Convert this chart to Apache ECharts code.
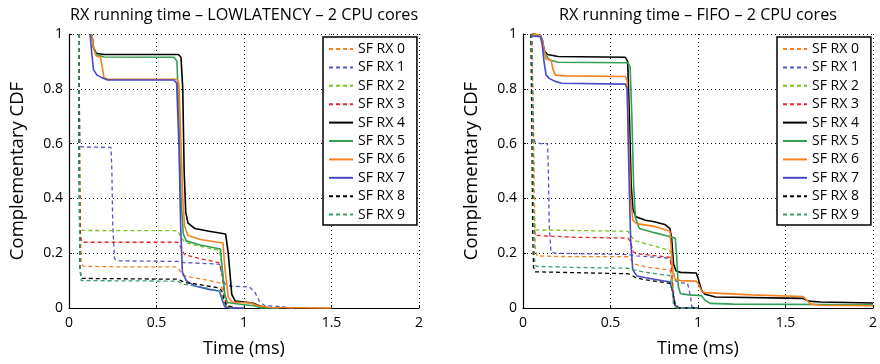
<!DOCTYPE html>
<html>
<head>
<meta charset="utf-8">
<script src="https://cdn.jsdelivr.net/npm/echarts@6/dist/echarts.min.js"></script>
<style>
html,body{margin:0;padding:0;background:#fff;}
#c{width:880px;height:364px;}
</style>
</head>
<body>
<div id="c"></div>
<script>
// ---------- data ----------
const seriesNames = ['SF RX 0','SF RX 1','SF RX 2','SF RX 3','SF RX 4','SF RX 5','SF RX 6','SF RX 7','SF RX 8','SF RX 9'];
const xTicks = [0, 0.5, 1, 1.5, 2];
const yTicks = [0, 0.2, 0.4, 0.6, 0.8, 1];
const titleLeft = 'RX running time – LOWLATENCY – 2 CPU cores';
const titleRight = 'RX running time – FIFO – 2 CPU cores';

// LOWLATENCY plot: [time (ms), complementary CDF]
const LL_RX0 = [[0.055,1],[0.06,0.7],[0.065,0.3],[0.07,0.16],[0.085,0.152],[0.3,0.15],[0.61,0.15],[0.63,0.14],[0.65,0.12],[0.7,0.112],[0.8,0.1],[0.86,0.092],[0.875,0.07],[0.9,0.01],[0.95,0.002],[1.0,0]];
const LL_RX1 = [[0.055,1],[0.058,0.8],[0.062,0.6],[0.07,0.588],[0.24,0.586],[0.245,0.5],[0.25,0.3],[0.26,0.18],[0.28,0.172],[0.62,0.17],[0.65,0.166],[0.86,0.16],[0.875,0.12],[0.89,0.088],[0.92,0.08],[1.03,0.077],[1.06,0.06],[1.09,0.022],[1.12,0.008],[1.22,0.005],[1.25,0],[1.3,0]];
const LL_RX2 = [[0.055,1],[0.06,0.6],[0.065,0.3],[0.075,0.283],[0.62,0.282],[0.64,0.26],[0.66,0.24],[0.75,0.225],[0.86,0.21],[0.875,0.15],[0.89,0.04],[0.91,0.005],[0.95,0]];
const LL_RX3 = [[0.055,1],[0.06,0.5],[0.065,0.26],[0.075,0.24],[0.62,0.24],[0.64,0.22],[0.66,0.195],[0.75,0.18],[0.86,0.165],[0.875,0.12],[0.89,0.03],[0.91,0.005],[0.95,0]];
const LL_RX4 = [[0.13,1],[0.14,0.95],[0.155,0.93],[0.2,0.925],[0.625,0.925],[0.64,0.915],[0.65,0.8],[0.658,0.5],[0.667,0.35],[0.68,0.31],[0.72,0.29],[0.8,0.28],[0.895,0.27],[0.91,0.2],[0.93,0.05],[0.95,0.025],[1.05,0.018],[1.08,0.01],[1.12,0.002],[1.2,0]];
const LL_RX5 = [[0.13,1],[0.14,0.95],[0.155,0.925],[0.2,0.916],[0.6,0.915],[0.617,0.9],[0.628,0.7],[0.64,0.4],[0.653,0.27],[0.67,0.245],[0.75,0.23],[0.865,0.215],[0.875,0.15],[0.89,0.05],[0.905,0.02],[1.0,0.012],[1.06,0.008],[1.1,0],[1.2,0]];
const LL_RX6 = [[0.13,1],[0.14,0.95],[0.155,0.92],[0.18,0.915],[0.19,0.88],[0.2,0.84],[0.22,0.835],[0.615,0.835],[0.628,0.82],[0.64,0.6],[0.65,0.4],[0.66,0.3],[0.68,0.265],[0.75,0.25],[0.88,0.237],[0.89,0.15],[0.91,0.04],[0.93,0.022],[1.04,0.018],[1.08,0.008],[1.15,0.002],[1.5,0]];
const LL_RX7 = [[0.12,1],[0.13,0.93],[0.14,0.87],[0.16,0.85],[0.19,0.84],[0.22,0.832],[0.6,0.832],[0.615,0.82],[0.628,0.6],[0.638,0.3],[0.648,0.13],[0.67,0.1],[0.72,0.08],[0.8,0.068],[0.86,0.062],[0.875,0.03],[0.89,0.005],[0.92,0],[1.0,0]];
const LL_RX8 = [[0.055,1],[0.058,0.5],[0.062,0.15],[0.07,0.108],[0.62,0.105],[0.64,0.1],[0.66,0.093],[0.75,0.085],[0.86,0.073],[0.875,0.06],[0.885,0.03],[0.9,0.008],[0.95,0]];
const LL_RX9 = [[0.055,1],[0.058,0.5],[0.063,0.14],[0.07,0.1],[0.62,0.098],[0.64,0.092],[0.66,0.086],[0.75,0.078],[0.86,0.062],[0.875,0.04],[0.89,0.01],[0.92,0],[0.95,0]];

// FIFO plot
const FF_RX0 = [[0.05,0.97],[0.06,0.7],[0.065,0.4],[0.07,0.22],[0.08,0.19],[0.2,0.188],[0.6,0.187],[0.62,0.175],[0.64,0.16],[0.7,0.15],[0.84,0.138],[0.855,0.09],[0.87,0.01],[0.9,0],[1.0,0]];
const FF_RX1 = [[0.05,1],[0.055,0.8],[0.06,0.62],[0.07,0.605],[0.1,0.6],[0.14,0.6],[0.145,0.5],[0.15,0.3],[0.16,0.205],[0.18,0.2],[0.6,0.195],[0.65,0.19],[0.84,0.182],[0.855,0.14],[0.87,0.1],[0.9,0.092],[0.94,0.09],[0.955,0.05],[0.965,0.005],[0.98,0],[1.0,0]];
const FF_RX2 = [[0.05,1],[0.055,0.7],[0.06,0.35],[0.07,0.285],[0.6,0.28],[0.62,0.26],[0.64,0.245],[0.7,0.235],[0.84,0.21],[0.85,0.15],[0.86,0.04],[0.87,0.005],[0.9,0],[1.0,0]];
const FF_RX3 = [[0.05,1],[0.055,0.6],[0.06,0.3],[0.07,0.265],[0.3,0.258],[0.6,0.255],[0.615,0.24],[0.63,0.205],[0.65,0.198],[0.84,0.185],[0.85,0.13],[0.86,0.02],[0.88,0],[1.0,0]];
const FF_RX4 = [[0.05,1],[0.06,0.997],[0.1,0.995],[0.11,0.98],[0.12,0.94],[0.14,0.925],[0.2,0.918],[0.585,0.915],[0.598,0.9],[0.608,0.7],[0.618,0.45],[0.628,0.36],[0.645,0.333],[0.7,0.32],[0.75,0.315],[0.81,0.305],[0.84,0.29],[0.85,0.25],[0.86,0.16],[0.875,0.135],[0.9,0.13],[0.99,0.128],[1.0,0.11],[1.02,0.065],[1.04,0.05],[1.1,0.04],[1.6,0.035],[1.63,0.025],[1.7,0.022],[2,0.018]];
const FF_RX5 = [[0.05,1],[0.06,0.997],[0.1,0.995],[0.11,0.98],[0.125,0.93],[0.15,0.905],[0.2,0.897],[0.6,0.895],[0.612,0.88],[0.622,0.7],[0.632,0.45],[0.642,0.33],[0.665,0.29],[0.75,0.275],[0.83,0.262],[0.87,0.255],[0.877,0.2],[0.887,0.08],[0.9,0.052],[0.95,0.048],[1.02,0.045],[1.04,0.028],[1.07,0.017],[1.2,0.014],[2,0.012]];
const FF_RX6 = [[0.05,1],[0.06,0.997],[0.1,0.995],[0.112,0.97],[0.13,0.91],[0.16,0.905],[0.172,0.87],[0.185,0.85],[0.25,0.847],[0.585,0.845],[0.595,0.83],[0.605,0.6],[0.615,0.4],[0.628,0.32],[0.65,0.308],[0.75,0.298],[0.84,0.28],[0.847,0.22],[0.857,0.13],[0.87,0.105],[0.9,0.1],[0.99,0.098],[1.0,0.09],[1.02,0.062],[1.04,0.056],[1.3,0.048],[1.6,0.042],[1.62,0.03],[1.64,0.015],[1.7,0.01],[2,0.008]];
const FF_RX7 = [[0.05,0.993],[0.1,0.99],[0.11,0.96],[0.12,0.9],[0.132,0.85],[0.15,0.838],[0.18,0.828],[0.22,0.82],[0.585,0.817],[0.595,0.8],[0.605,0.5],[0.615,0.25],[0.627,0.14],[0.65,0.117],[0.75,0.105],[0.84,0.095],[0.855,0.06],[0.87,0.01],[0.89,0],[1.0,0]];
const FF_RX8 = [[0.045,1],[0.05,0.7],[0.055,0.3],[0.06,0.15],[0.07,0.132],[0.6,0.125],[0.62,0.12],[0.64,0.112],[0.68,0.105],[0.84,0.09],[0.855,0.06],[0.87,0.01],[0.89,0],[1.0,0]];
const FF_RX9 = [[0.05,1],[0.055,0.7],[0.06,0.35],[0.065,0.18],[0.075,0.152],[0.3,0.148],[0.6,0.145],[0.64,0.138],[0.7,0.13],[0.84,0.118],[0.85,0.08],[0.86,0.01],[0.88,0],[1.0,0]];

const llData = [LL_RX0,LL_RX1,LL_RX2,LL_RX3,LL_RX4,LL_RX5,LL_RX6,LL_RX7,LL_RX8,LL_RX9];
const ffData = [FF_RX0,FF_RX1,FF_RX2,FF_RX3,FF_RX4,FF_RX5,FF_RX6,FF_RX7,FF_RX8,FF_RX9];

// ---------- styles ----------
const colors = ['#F5821F','#5656C8','#7DC21E','#E5262B','#000000','#339E55','#F5821F','#4848C8','#000000','#35A06E'];
const dashed = [true,true,true,true,false,false,false,false,true,true];
const FONT = '"Open Sans"';

const chart = echarts.init(document.getElementById('c'));

function makeSeries(dataList, gi) {
  return dataList.map((d, i) => ({
    type: 'line',
    name: seriesNames[i],
    xAxisIndex: gi, yAxisIndex: gi,
    data: d,
    symbol: 'none',
    clip: false,
    animation: false,
    lineStyle: {
      color: colors[i],
      width: dashed[i] ? 1.3 : 1.6,
      type: dashed[i] ? [4, 3] : 'solid'
    },
    itemStyle: { color: colors[i] },
    emphasis: { disabled: true }
  }));
}

function xAx(gi) {
  return {
    type: 'value', gridIndex: gi, min: 0, max: 2, interval: 0.5,
    name: 'Time (ms)', nameLocation: 'middle', nameGap: 32,
    nameTextStyle: { fontFamily: FONT, fontSize: 18, color: '#000' },
    axisLine: { show: true, onZero: false, lineStyle: { color: '#000', width: 1.2 } },
    axisTick: { show: true, inside: true, length: 3, lineStyle: { color: '#000' } },
    axisLabel: { fontFamily: FONT, fontSize: 14, color: '#000', margin: 8,
      formatter: v => xTicks.indexOf(v) >= 0 ? String(v) : '' },
    splitLine: { show: true, lineStyle: { color: '#000', type: [1, 3], width: 1 } }
  };
}
function yAx(gi) {
  return {
    type: 'value', gridIndex: gi, min: 0, max: 1, interval: 0.2,
    name: 'Complementary CDF', nameLocation: 'middle', nameGap: 42,
    nameTextStyle: { fontFamily: FONT, fontSize: 18.5, color: '#000' },
    axisLine: { show: true, onZero: false, lineStyle: { color: '#000', width: 1.2 } },
    axisTick: { show: true, inside: true, length: 3, lineStyle: { color: '#000' } },
    axisLabel: { fontFamily: FONT, fontSize: 14, color: '#000', margin: 6,
      formatter: v => { const t = yTicks.find(k => Math.abs(k - v) < 1e-9); return t === undefined ? '' : String(t); } },
    splitLine: { show: true, lineStyle: { color: '#000', type: [1, 3], width: 1 } }
  };
}
function legend(left) {
  return {
    orient: 'vertical', left: left, top: 37,
    data: seriesNames,
    itemWidth: 24, itemHeight: 8, itemGap: 3.4,
    padding: [4.5, 12, 3, 5],
    borderColor: '#000', borderWidth: 1.5, backgroundColor: '#fff',
    itemStyle: { color: 'rgba(0,0,0,0)', borderColor: 'rgba(0,0,0,0)', borderWidth: 0, opacity: 0 },
    textStyle: { fontFamily: FONT, fontSize: 14, lineHeight: 15, color: '#000' },
    selectedMode: false
  };
}

chart.setOption({
  animation: false,
  backgroundColor: '#fff',
  grid: [
    { left: 69, top: 34, width: 350, height: 274 },
    { left: 523, top: 34, width: 350, height: 274 }
  ],
  xAxis: [xAx(0), xAx(1)],
  yAxis: [yAx(0), yAx(1)],
  legend: [legend(323), legend(777)],
  graphic: [
    { type: 'text', x: 244, y: 15, style: { text: titleLeft, fontFamily: FONT, fontSize: 16.2, fill: '#000', align: 'center', verticalAlign: 'middle' } },
    { type: 'text', x: 698, y: 15, style: { text: titleRight, fontFamily: FONT, fontSize: 16.2, fill: '#000', align: 'center', verticalAlign: 'middle' } }
  ],
  series: makeSeries(llData, 0).concat(makeSeries(ffData, 1))
});
</script>
</body>
</html>
